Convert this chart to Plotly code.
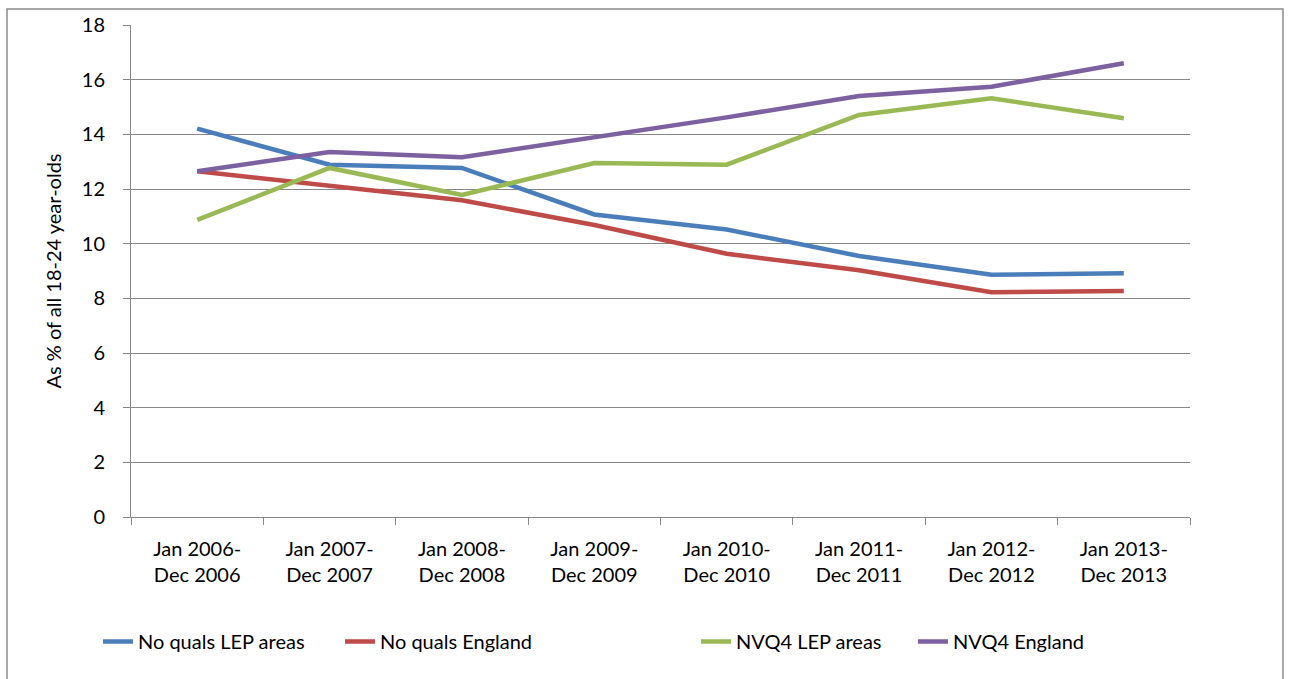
import plotly.graph_objects as go

PERIODS = [
    "Jan 2006-<br>Dec 2006", "Jan 2007-<br>Dec 2007", "Jan 2008-<br>Dec 2008",
    "Jan 2009-<br>Dec 2009", "Jan 2010-<br>Dec 2010", "Jan 2011-<br>Dec 2011",
    "Jan 2012-<br>Dec 2012", "Jan 2013-<br>Dec 2013",
]

NOQUALS_LEP = [14.21, 12.89, 12.77, 11.07, 10.52, 9.55, 8.86, 8.92]
NOQUALS_ENG = [12.65, 12.14, 11.59, 10.68, 9.63, 9.03, 8.22, 8.27]
NVQ4_LEP = [10.87, 12.77, 11.78, 12.95, 12.89, 14.71, 15.32, 14.59]
NVQ4_ENG = [12.65, 13.35, 13.16, 13.88, 14.62, 15.40, 15.74, 16.60]

SERIES = [
    ("No quals LEP areas", NOQUALS_LEP, "#4A7EBB"),
    ("No quals England", NOQUALS_ENG, "#BE4B48"),
    ("NVQ4 LEP areas", NVQ4_LEP, "#98B954"),
    ("NVQ4 England", NVQ4_ENG, "#7D60A0"),
]

Y_TICKS = list(range(0, 19, 2))

FONT = "Lato, 'Open Sans', sans-serif"
GRID = "#878787"

# plot area: x 131..1190, y 23..517 in a 1290x679 page
pw, ph = 1190 - 131, 517 - 23

# where each legend entry's text starts, in page pixels
LEGEND_TEXT_X = [140, 382, 738, 955]
legend_names = ["legend", "legend2", "legend3", "legend4"]

fig = go.Figure()
for (name, vals, col), lg in zip(SERIES, legend_names):
    fig.add_trace(go.Scatter(
        x=PERIODS, y=vals, name=name, mode="lines",
        line=dict(color=col, width=4.5), legend=lg,
    ))

legends = {}
for lg, tx in zip(legend_names, LEGEND_TEXT_X):
    legends[lg] = dict(
        orientation="h", x=(tx - 42 - 131) / pw, xanchor="left",
        y=(517 - 642) / ph, yanchor="middle",
        font=dict(size=20), bgcolor="rgba(0,0,0,0)",
    )

fig.update_layout(
    width=1290, height=679,
    font=dict(family=FONT, size=20, color="#000000"),
    paper_bgcolor="white",
    plot_bgcolor="white",
    margin=dict(l=131, r=100, t=23, b=162, pad=0),
    showlegend=True,
    **legends,
    xaxis=dict(
        type="category", tickson="boundaries",
        ticks="outside", ticklen=7, tickcolor=GRID, tickwidth=1,
        showline=True, linecolor=GRID, linewidth=1,
        showgrid=False, range=[-0.5, 7.5],
        tickfont=dict(size=20), ticklabelstandoff=14,
    ),
    yaxis=dict(
        range=[0, 18], tickvals=Y_TICKS,
        ticks="outside", ticklen=7, tickcolor=GRID, tickwidth=1,
        showline=True, linecolor=GRID, linewidth=1,
        showgrid=True, gridcolor=GRID, gridwidth=1,
        zeroline=False,
        tickfont=dict(size=20), ticklabelstandoff=14,
        title=dict(text="As % of all 18-24 year-olds", font=dict(size=20), standoff=14),
    ),
    shapes=[dict(
        type="rect", xref="paper", yref="paper",
        x0=(7 - 131) / pw, x1=(1283 - 131) / pw,
        y0=-0.5, y1=1 + (23 - 7) / ph,
        line=dict(color="#8C8C8C", width=1.5),
        fillcolor="rgba(0,0,0,0)", layer="below",
    )],
)

fig.write_html("out.html", config={"displayModeBar": False},
               post_script="document.body.style.margin='0';")
